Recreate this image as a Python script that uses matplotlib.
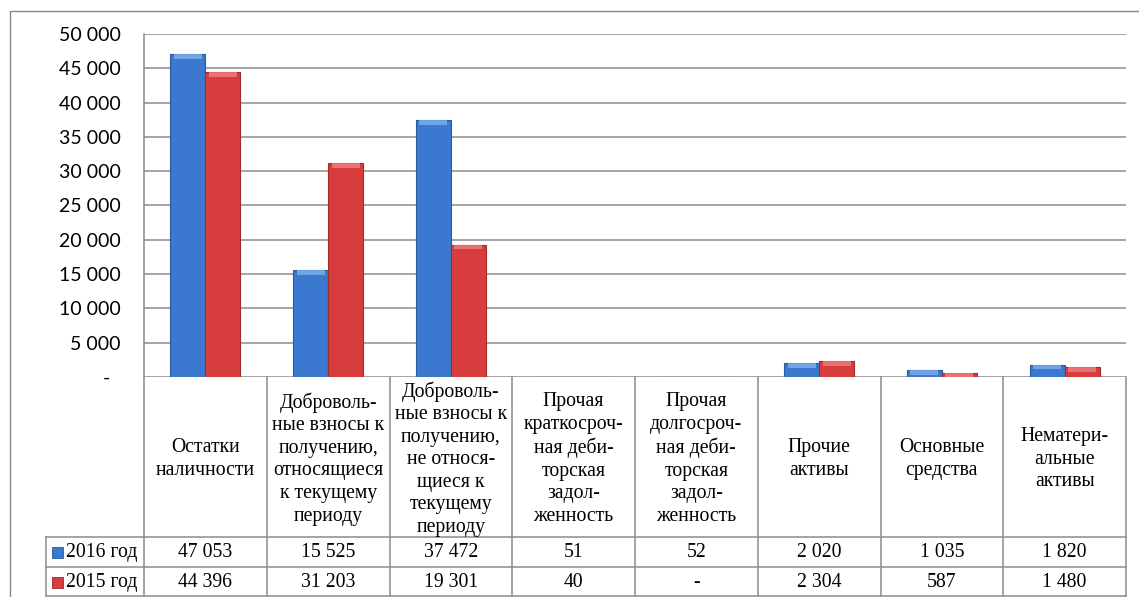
import numpy as np
import matplotlib.pyplot as plt
from matplotlib.patches import Rectangle

# data
categories = [
    "Остатки\nналичности",
    "Доброволь-\nные взносы к\nполучению,\nотносящиеся\nк текущему\nпериоду",
    "Доброволь-\nные взносы к\nполучению,\nне относя-\nщиеся к\nтекущему\nпериоду",
    "Прочая\nкраткосроч-\nная деби-\nторская\nзадол-\nженность",
    "Прочая\nдолгосроч-\nная деби-\nторская\nзадол-\nженность",
    "Прочие\nактивы",
    "Основные\nсредства",
    "Нематери-\nальные\nактивы",
]
series_names = ["2016 год", "2015 год"]
values_2016 = [47053, 15525, 37472, 51, 52, 2020, 1035, 1820]
values_2015 = [44396, 31203, 19301, 40, 0, 2304, 587, 1480]
y_ticks = list(range(0, 50001, 5000))


def fmt(v):
    if v == 0:
        return "-"
    return f"{v:,}".replace(",", " ")


# layout (pixels of the 1139x597 picture)
W, H = 1139, 597
def fx(px):
    return px / W
def fy(py):
    return 1 - py / H

blue, blue_dark, blue_light = "#3b78cf", "#2a5a9e", "#7fb0ec"
red, red_dark, red_light = "#d83c3c", "#9e2a2a", "#f08080"
grid_col = "#8c8c8c"
serif = ["Liberation Serif", "DejaVu Serif"]

fig = plt.figure(figsize=(W / 100, H / 100), dpi=100)

# outer chart border
fig.add_artist(Rectangle((fx(9.5), fy(620)), fx(1160), fy(10.5) - fy(620),
                         transform=fig.transFigure, fill=False,
                         edgecolor="#868686", lw=1.0, clip_on=False))

# plot area
left, right, top, zero = 144, 1126, 34, 377
ax = fig.add_axes([fx(left), fy(zero), fx(right - left), fy(top) - fy(zero)])
n = len(categories)
x = np.arange(n)
bw = 0.285
v16 = np.array(values_2016)
v15 = np.array(values_2015)
for vals, off, c, ce, cl in [(v16, -bw / 2, blue, blue_dark, blue_light),
                              (v15, bw / 2, red, red_dark, red_light)]:
    ax.bar(x + off, vals, bw, color=c, edgecolor=ce, lw=0.8, zorder=3)
    cap = np.minimum(vals, 700)
    ax.bar(x + off, cap, bw * 0.8, bottom=vals - cap, color=cl, lw=0,
           alpha=0.8, zorder=4)

ax.set_xlim(-0.5, n - 0.5)
ax.set_ylim(0, 50000)
ax.set_yticks(y_ticks)
ax.set_yticklabels([fmt(t) + ("  " if t == 0 else "") for t in y_ticks],
                   fontfamily="Lato", fontsize=14)
ax.tick_params(axis="y", length=0, pad=17)
ax.set_xticks([])
ax.yaxis.grid(True, color=grid_col, lw=1.1, zorder=0)
for s in ["top", "right", "bottom"]:
    ax.spines[s].set_visible(False)
ax.spines["left"].set_color(grid_col)
ax.spines["left"].set_linewidth(1.1)

# data table
leg_px = 98
col_px = (right - left) / n
leg_w = leg_px / col_px
tab = fig.add_axes([fx(left - leg_px), 0, fx(right - left + leg_px), fy(zero)])
tab.set_xlim(-0.5 - leg_w, n - 0.5)
tab.set_ylim(H - zero, 0)
tab.axis("off")
head_h, row_h = 160, 29.5
tab_bottom = head_h + 2 * row_h
for i in range(n + 1):
    tab.plot([i - 0.5, i - 0.5], [0, tab_bottom], color=grid_col, lw=1.1,
             clip_on=False)
tab.plot([-0.5 - leg_w, -0.5 - leg_w], [head_h, tab_bottom], color=grid_col,
         lw=1.1, clip_on=False)
for yy in [head_h, head_h + row_h, tab_bottom]:
    tab.plot([-0.5 - leg_w, n - 0.5], [yy, yy], color=grid_col, lw=1.1,
             clip_on=False)

for i, lab in enumerate(categories):
    tab.text(i, head_h / 2 + 2, lab, ha="center", va="center",
             family=serif, fontsize=14.2, linespacing=1.25)

rows = [(series_names[0], values_2016, blue, blue_dark),
        (series_names[1], values_2015, red, red_dark)]
for r, (name, vals, c, ce) in enumerate(rows):
    yc = head_h + row_h * (r + 0.5) + 1
    for i, v in enumerate(vals):
        tab.text(i, yc, fmt(v), ha="center", va="center",
                 family=serif, fontsize=14.2)
    sq = 11 / col_px
    tab.add_patch(Rectangle((-0.5 - leg_w + 6 / col_px, yc - 5.5), sq, 11,
                            facecolor=c, edgecolor=ce, lw=0.6))
    tab.text(-0.5 - leg_w + 20 / col_px, yc, name, ha="left", va="center",
             family=serif, fontsize=14.2)

plt.savefig("out.png", dpi=100)
